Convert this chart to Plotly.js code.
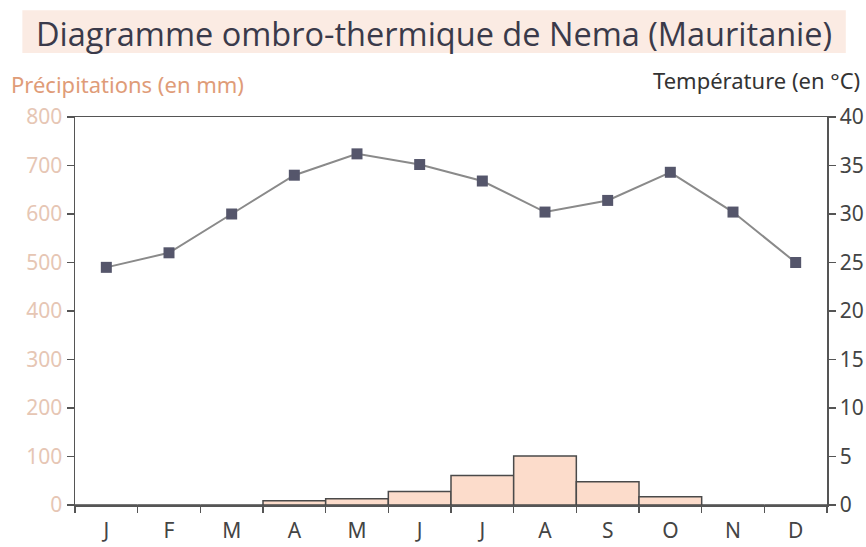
<!DOCTYPE html>
<html>
<head>
<meta charset="utf-8">
<script src="https://cdn.plot.ly/plotly-3.0.1.min.js"></script>
<style>html,body{margin:0;padding:0;background:#fff;}#chart{width:866px;height:547px;}</style>
</head>
<body>
<div id="chart"></div>
<script>
const months = ["J","F","M","A","M","J","J","A","S","O","N","D"];
const monthIndex = [1,2,3,4,5,6,7,8,9,10,11,12];
const precipitation = [0,0,0,9,13,28,61,101,48,17,0,0];
const temperature = [24.5,26,30,34,36.2,35.1,33.4,30.2,31.4,34.3,30.2,25];
const leftTicks = [0,100,200,300,400,500,600,700,800];
const rightTicks = [0,5,10,15,20,25,30,35,40];

const condensed = '"Liberation Sans Narrow", "Noto Sans", sans-serif';
const boundaries = [0].concat(monthIndex).map(v => v + 0.5);

const traces = [
  {
    type: 'bar', x: monthIndex, y: precipitation, yaxis: 'y',
    marker: {color: '#fcdccb', line: {color: '#4a4a4a', width: 1.5}},
    width: 1, hoverinfo: 'y'
  },
  {
    type: 'scatter', mode: 'lines+markers', x: monthIndex, y: temperature, yaxis: 'y2',
    line: {color: '#8a8a8a', width: 2},
    marker: {symbol: 'square', size: 11, color: '#55566b'},
    hoverinfo: 'y'
  }
];

const layout = {
  width: 866, height: 547,
  margin: {l: 75, r: 39, t: 117, b: 42},
  paper_bgcolor: '#ffffff', plot_bgcolor: '#ffffff',
  showlegend: false, bargap: 0,
  font: {family: condensed, color: '#333', weight: 400},
  xaxis: {
    range: [0.5, 12.5], tickvals: monthIndex, ticktext: months,
    ticks: '', showgrid: false, zeroline: false, ticklabelstandoff: 6,
    showline: true, linecolor: '#555', linewidth: 1.5, mirror: true,
    tickfont: {size: 21, color: '#444', family: condensed, weight: 400},
    minor: {tickvals: boundaries, ticks: 'outside', ticklen: 6, tickcolor: '#555', tickwidth: 1.5, showgrid: false}
  },
  yaxis: {
    range: [0, 800], tickvals: leftTicks, ticks: 'outside', ticklen: 7, tickcolor: '#555', tickwidth: 1.5,
    showgrid: false, zeroline: false, showline: true, linecolor: '#555', linewidth: 1.5,
    tickfont: {size: 21, color: '#e6c6b4', family: condensed, weight: 400}
  },
  yaxis2: {
    range: [0, 40], tickvals: rightTicks, overlaying: 'y', side: 'right',
    ticks: 'outside', ticklen: 7, tickcolor: '#555', tickwidth: 1.5,
    showgrid: false, zeroline: false, showline: true, linecolor: '#555', linewidth: 1.5,
    tickfont: {size: 21, color: '#444', family: condensed, weight: 400}
  },
  shapes: [
    {type: 'rect', xref: 'paper', yref: 'paper', layer: 'below',
     x0: -0.07, x1: 1.025, y0: 1.165, y1: 1.275, fillcolor: '#fbebe3', line: {width: 0}}
  ],
  annotations: [
    {text: 'Diagramme ombro-thermique de Nema (Mauritanie)', xref: 'paper', yref: 'paper',
     x: 0.478, y: 1.215, xanchor: 'center', yanchor: 'middle', showarrow: false,
     font: {family: '"Open Sans", sans-serif', size: 32.5, color: '#3a3a4a', weight: 400}},
    {text: 'Précipitations (en mm)', xref: 'paper', yref: 'paper',
     x: -0.088, y: 1.085, xanchor: 'left', yanchor: 'middle', showarrow: false,
     font: {family: condensed, size: 22, color: '#df9c78', weight: 400}},
    {text: 'Température (en °C)', xref: 'paper', yref: 'paper',
     x: 1.046, y: 1.095, xanchor: 'right', yanchor: 'middle', showarrow: false,
     font: {family: condensed, size: 22, color: '#333', weight: 400}}
  ]
};

Plotly.newPlot('chart', traces, layout, {displayModeBar: false, staticPlot: true});
</script>
</body>
</html>
